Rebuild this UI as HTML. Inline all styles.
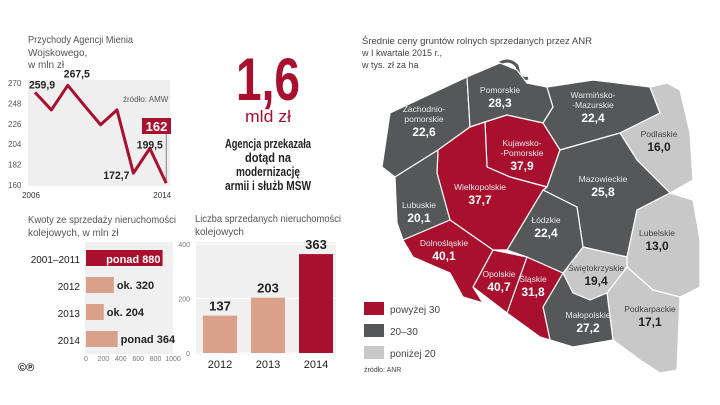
<!DOCTYPE html>
<html><head><meta charset="utf-8"><style>
body{margin:0;width:720px;height:405px;background:#fff;overflow:hidden;font-family:"Liberation Sans Narrow","Liberation Sans",sans-serif}
svg{position:absolute;left:0;top:0}
</style></head><body>
<svg width="720" height="405" viewBox="0 0 720 405">
<g id="lc">
<text x="28" y="43" font-size="10" fill="#555" textLength="105" lengthAdjust="spacingAndGlyphs">Przychody Agencji Mienia</text>
<text x="28" y="56" font-size="10" fill="#555">Wojskowego,</text>
<text x="28" y="68" font-size="10" fill="#555">w mln zł</text>
<rect x="28" y="80" width="142" height="106" fill="#efefef"/>
<text x="123" y="102" font-size="8" fill="#555">źródło: AMW</text>
</g>
<g id="hb">
<text x="28" y="223" font-size="10" fill="#555" textLength="148" lengthAdjust="spacingAndGlyphs">Kwoty ze sprzedaży nieruchomości</text>
<text x="28" y="236" font-size="10" fill="#555">kolejowych, w mln zł</text>
<rect x="85" y="242" width="88" height="112" fill="#f0f0f0"/>
</g>
<g id="vb">
<text x="195" y="222" font-size="10" fill="#555" textLength="146" lengthAdjust="spacingAndGlyphs">Liczba sprzedanych nieruchomości</text>
<text x="195" y="235" font-size="10" fill="#555">kolejowych</text>
<rect x="196" y="242" width="140" height="112" fill="#f0f0f0"/>
</g>
<text x="18" y="371" font-size="11" font-weight="bold" fill="#222">©℗</text>
<g text-anchor="middle">
<text x="268" y="100" font-size="60" font-weight="bold" fill="#a8102e" textLength="64" lengthAdjust="spacingAndGlyphs">1,6</text>
<text x="268" y="122" font-size="17" fill="#a8102e" textLength="46" lengthAdjust="spacingAndGlyphs">mld zł</text>
<text x="268" y="148" font-size="13" font-weight="bold" fill="#222" textLength="86" lengthAdjust="spacingAndGlyphs">Agencja przekazała</text>
<text x="268" y="162" font-size="13" font-weight="bold" fill="#222" textLength="46" lengthAdjust="spacingAndGlyphs">dotąd na</text>
<text x="268" y="176" font-size="13" font-weight="bold" fill="#222" textLength="64" lengthAdjust="spacingAndGlyphs">modernizację</text>
<text x="268" y="190" font-size="13" font-weight="bold" fill="#222" textLength="86" lengthAdjust="spacingAndGlyphs">armii i służb MSW</text>
</g>
<g font-size="9" fill="#444">
<text x="362" y="44" textLength="230" lengthAdjust="spacingAndGlyphs">Średnie ceny gruntów rolnych sprzedanych przez ANR</text>
<text x="362" y="56">w I kwartale 2015 r.,</text>
<text x="362" y="68">w tys. zł za ha</text>
</g>
<path d="M500,63 Q510,58 517,66 L519,74 Q522,80 528,78" stroke="#555759" stroke-width="3" fill="none"/>
<g id="map"></g>
<g font-size="10" fill="#444">
<rect x="364" y="302" width="20" height="13" fill="#a8102e"/><text x="390" y="313">powyżej 30</text>
<rect x="364" y="324" width="20" height="13" fill="#555759"/><text x="390" y="335">20–30</text>
<rect x="364" y="346" width="20" height="13" fill="#c8c8c8"/><text x="390" y="357">poniżej 20</text>
<text x="364" y="372" font-size="7">źródło: ANR</text>
</g>
</svg>
<script>
const NS='http://www.w3.org/2000/svg';
function mk(t,a,p){const e=document.createElementNS(NS,t);for(const k in a)e.setAttribute(k,a[k]);p.appendChild(e);return e;}
// line chart
const lcYears=[2006,2007,2008,2009,2010,2011,2012,2013,2014];
const lcValues=[259.9,241,267.5,246,225,241,172.7,199.5,162];
const lcTicks=[160,182,204,226,248,270];
const lc=document.getElementById('lc');
const lx=i=>35+i*16.4, ly=v=>185-(v-160)*0.927;
lcTicks.forEach(t=>{const tx=mk('text',{x:8,y:ly(t)+3,'font-size':8,fill:'#555'},lc);tx.textContent=t;

});
[0,8].forEach(i=>{const tx=mk('text',{x:lx(i)-4,y:198,'font-size':8,fill:'#333','text-anchor':'middle'},lc);tx.textContent=lcYears[i];

});
mk('line',{x1:lx(8),y1:ly(lcValues[8]),x2:lx(8),y2:134,stroke:'#555','stroke-width':0.7},lc);
const pl=mk('polyline',{points:lcValues.map((v,i)=>lx(i)+','+ly(v)).join(' '),fill:'none',stroke:'#a8102e','stroke-width':3,'stroke-linejoin':'round'},lc);


const lcLabels=[[0,'259,9',-6,-4,'start'],[2,'267,5',-4,-8,'start'],[6,'172,7',-4,6,'end'],[7,'199,5',0,0,'middle']];
lcLabels.forEach(([i,s,dx,dy,an])=>{const tx=mk('text',{x:lx(i)+dx,y:ly(lcValues[i])+dy,'font-size':11,'font-weight':'bold',fill:'#222','text-anchor':an,textLength:26,lengthAdjust:'spacingAndGlyphs'},lc);tx.textContent=s;

});
mk('rect',{x:142,y:118,width:29,height:16,fill:'#a8102e'},lc);
const hl=mk('text',{x:156.5,y:131,'font-size':13,'font-weight':'bold',fill:'#fff','text-anchor':'middle'},lc);hl.textContent='162';


// horizontal bars
const hbCats=['2001–2011','2012','2013','2014'];
const hbValues=[880,320,204,364];
const hbLabels=['ponad 880','ok. 320','ok. 204','ponad 364'];
const hbTicks=[0,200,400,600,800,1000];
const hb=document.getElementById('hb');
const hx=v=>86+v*0.087;
hbTicks.forEach(t=>{const tx=mk('text',{x:hx(t),y:361,'font-size':7,fill:'#777','text-anchor':'middle'},hb);tx.textContent=t;

});
hbCats.forEach((c,i)=>{const y=250+i*27;const red=i==0;
const r=mk('rect',{x:hx(0),y:y,width:hx(hbValues[i])-hx(0),height:16,fill:red?'#a8102e':'#d9a08a'},hb);


const ct=mk('text',{x:80,y:y+13,'font-size':10,fill:'#222','text-anchor':'end'},hb);ct.textContent=c;


const vt=mk('text',red?{x:hx(hbValues[i])-2,y:y+13,'text-anchor':'end',fill:'#fff'}:{x:hx(hbValues[i])+3,y:y+12,fill:'#222'},hb);
vt.setAttribute('font-size',11);vt.setAttribute('font-weight','bold');vt.textContent=hbLabels[i];

});
// vertical bars
const vbCats=['2012','2013','2014'];
const vbValues=[137,203,363];
const vbTicks=[0,200,400];
const vb=document.getElementById('vb');
const vy=v=>353-v*0.2725;
vbTicks.forEach(t=>{mk('line',{x1:196,x2:336,y1:vy(t),y2:vy(t),stroke:'#fff','stroke-width':1},vb);
const tx=mk('text',{x:190,y:vy(t)+3,'font-size':7,fill:'#777','text-anchor':'end'},vb);tx.textContent=t;

});
vbCats.forEach((c,i)=>{const x=203+i*48;
const r=mk('rect',{x:x,y:vy(vbValues[i]),width:34,height:vy(0)-vy(vbValues[i]),fill:i==2?'#a8102e':'#d9a08a'},vb);


const vt=mk('text',{x:x+17,y:vy(vbValues[i])-5,'font-size':13,'font-weight':'bold',fill:'#222','text-anchor':'middle'},vb);vt.textContent=vbValues[i];


const ct=mk('text',{x:x+17,y:368,'font-size':11,fill:'#222','text-anchor':'middle'},vb);ct.textContent=c;

});
// map
const regNames=['Zachodnio-|pomorskie','Pomorskie','Warmińsko-|-Mazurskie','Podlaskie','Kujawsko-|-Pomorskie','Mazowieckie','Lubelskie','Podkarpackie','Świętokrzyskie','Małopolskie','Śląskie','Opolskie','Łódzkie','Wielkopolskie','Lubuskie','Dolnośląskie'];
const regValues=[22.6,28.3,22.4,16.0,37.9,25.8,13.0,17.1,19.4,27.2,31.8,40.7,22.4,37.7,20.1,40.1];
const shapes=[
'382,167 390,113 467,77 470,127 438,150 395,177',
'467,77 500,63 517,70 527,83 547,87 553,107 543,123 507,115 485,122 470,127',
'547,87 593,80 650,87 660,113 620,133 560,150 543,123 553,107',
'650,87 667,83 680,90 690,133 693,180 670,193 637,160 620,133 660,113',
'485,122 507,115 543,123 560,150 547,187 510,177 487,167',
'560,150 620,133 637,160 670,193 637,210 627,257 583,247 577,207 543,190 547,187',
'670,193 693,200 700,240 700,287 680,297 653,290 627,267 627,257 637,210',
'627,267 653,290 680,297 677,370 660,373 640,360 613,340 607,293',
'583,247 627,257 627,267 607,293 590,300 573,293 563,273',
'563,273 573,293 590,300 607,293 613,340 573,347 550,340 543,307',
'527,257 563,273 543,307 550,340 540,337 507,313 523,257',
'493,250 527,257 507,313 473,287',
'543,190 577,207 583,247 563,273 527,257 507,250',
'438,150 470,127 485,122 487,167 510,177 547,187 543,190 507,250 493,250 450,220 437,173',
'395,177 438,150 437,173 450,220 403,240 397,223',
'403,240 450,220 493,250 473,287 483,303 463,297 450,273 413,257'];
const labelPos=[[424,112],[500,93],[593,98],[659,137],[522,146],[603,182],[657,236],[650,312],[596,271],[588,318],[533,282],[499,277],[546,223],[480,190],[419,208],[444,246]];
const map=document.getElementById('map');
regNames.forEach((n,i)=>{const v=regValues[i];const col=v>30?'#a8102e':(v>=20?'#555759':'#c8c8c8');
const p=mk('polygon',{points:shapes[i],fill:col,stroke:'#fff','stroke-width':1.2,'stroke-linejoin':'round'},map);


const tc=v<20?'#222':'#fff';const lines=n.split('|');let [x,y]=labelPos[i];
lines.forEach((l,k)=>{const t=mk('text',{x:x,y:y+k*10,'font-size':8.5,fill:v<20?'#444':'#e8e8e8','text-anchor':'middle'},map);t.textContent=l;

});
const vt=mk('text',{x:x,y:y+lines.length*10+4,'font-size':12,'font-weight':'bold',fill:tc,'text-anchor':'middle'},map);vt.textContent=v.toFixed(1).replace('.',',');

});
</script>
</body></html>
